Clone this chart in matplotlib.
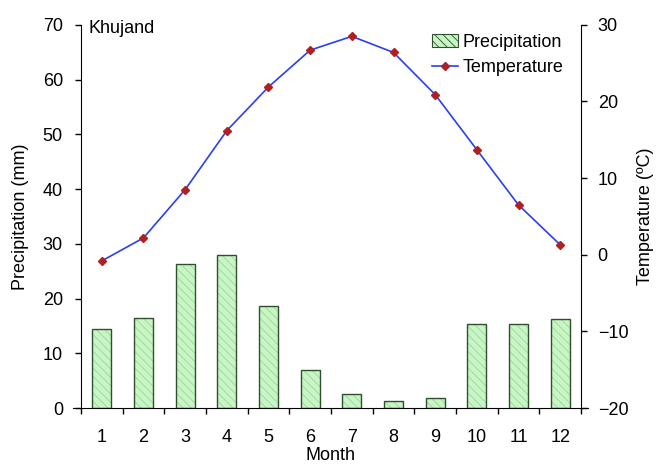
import numpy as np
import matplotlib
matplotlib.use('Agg')
import matplotlib.pyplot as plt

plt.rcParams['font.family'] = ['Liberation Sans', 'DejaVu Sans']
plt.rcParams['hatch.linewidth'] = 0.6

# Данные
months = [1, 2, 3, 4, 5, 6, 7, 8, 9, 10, 11, 12]
precip = [14.4, 16.5, 26.3, 28.0, 18.6, 7.0, 2.5, 1.2, 1.8, 15.3, 15.4, 16.3]
temp = [-0.8, 2.2, 8.5, 16.2, 21.9, 26.7, 28.5, 26.4, 20.9, 13.7, 6.5, 1.3]
station = 'Khujand'

FS = 13
fig = plt.figure(figsize=(6.61, 4.69), dpi=100)
ax = fig.add_axes([0.1225, 0.130, 0.7565, 0.817])

# столбцы осадков: заливка со штриховкой + тёмный контур
ax.bar(months, precip, width=0.45, color='#c8f5c4', edgecolor='#9ed49e',
       hatch='\\\\\\\\', linewidth=0, zorder=2)
ax.bar(months, precip, width=0.45, fill=False, edgecolor='#2f4f2f',
       linewidth=1.0, zorder=3)

ax.set_xlim(0.5, 12.5)
ax.set_ylim(0, 70)
ax.set_yticks(range(0, 71, 10))
ax.set_xticks(months)
ax.set_xticks(np.arange(0.5, 13, 1), minor=True)
ax.tick_params(axis='x', which='major', length=0, pad=15, labelsize=FS)
ax.tick_params(axis='x', which='minor', length=4, direction='out', width=1)
ax.tick_params(axis='y', length=4, direction='out', labelsize=FS, width=1, pad=9)
ax.spines['top'].set_visible(False)
ax.spines['right'].set_visible(False)
ax.spines['bottom'].set_bounds(0.31, 12.67)
ax.set_ylabel('Precipitation (mm)', fontsize=FS, labelpad=10)
ax.set_xlabel('Month', fontsize=FS, labelpad=1)

ax.text(0.015, 1.012, station, transform=ax.transAxes, fontsize=FS,
        va='top', ha='left')

# температура на правой оси
ax2 = ax.twinx()
ax2.plot(months, temp, '-', color='#2a3ff0', linewidth=1.2, marker='D',
         markersize=4, markerfacecolor='#b02020', markeredgecolor='#b02020',
         zorder=4)
ax2.set_ylim(-20, 30)
ax2.set_yticks(range(-20, 31, 10))
ax2.tick_params(axis='y', length=4, direction='out', labelsize=FS, width=1, pad=8)
ax2.spines['top'].set_visible(False)
ax2.spines['left'].set_visible(False)
ax2.spines['bottom'].set_visible(False)
ax2.set_ylabel('Temperature (ºC)', fontsize=FS, labelpad=6)

# легенда
h1 = plt.Rectangle((0, 0), 1, 1, facecolor='#c8f5c4', edgecolor='#2f4f2f',
                   hatch='\\\\\\\\', linewidth=0.8)
h2, = ax2.plot([], [], '-', color='#2a3ff0', linewidth=1.2, marker='D',
               markersize=4, markerfacecolor='#b02020', markeredgecolor='#b02020')
ax2.legend([h1, h2], ['Precipitation', 'Temperature'], loc='upper right',
           frameon=False, fontsize=FS, handlelength=1.45, handletextpad=0.25,
           borderaxespad=0.0, borderpad=0.3, labelspacing=0.45,
           bbox_to_anchor=(0.975, 0.99))

fig.savefig('out.png', dpi=100)
